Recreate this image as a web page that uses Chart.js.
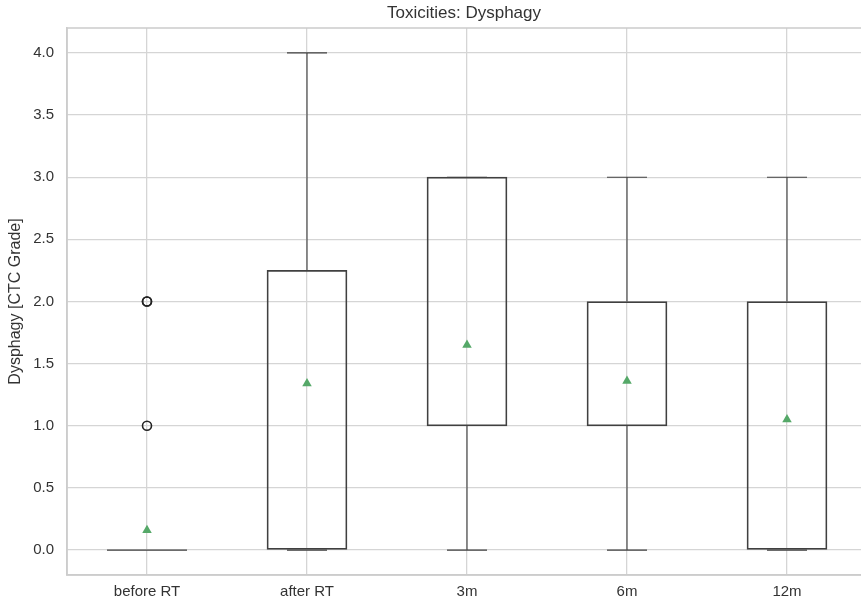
<!DOCTYPE html>
<html lang="en">

<head>
  <meta charset="UTF-8">
  <title>Toxicities: Dysphagy</title>
  <script src="https://cdn.jsdelivr.net/npm/chart.js"></script>
  <style>
    body { margin: 0; background: #fff; }
    #wrap { width: 861px; height: 604px; }
  </style>
</head>

<body>
  <div id="wrap"><canvas id="boxChart"></canvas></div>

  <script>
    // data
    const categories = ['before RT', 'after RT', '3m', '6m', '12m'];
    const q1 = [0, 0, 1, 1, 0];
    const q3 = [0, 2.25, 3, 2, 2];
    const whiskerLow = [0, 0, 0, 0, 0];
    const whiskerHigh = [0, 4, 3, 3, 3];
    const means = [0.16, 1.34, 1.65, 1.36, 1.05];
    const fliers = [[1, 2, 2], [], [], [], []];
    const yTicks = [0, 0.5, 1, 1.5, 2, 2.5, 3, 3.5, 4];

    const lineColor = '#404040';
    const gridColor = '#d5d5d5';
    const textColor = '#333333';
    const fontFamily = "'Liberation Sans', Arial, sans-serif";
    const capHalf = 0.125;
    const boxHalf = 0.25;

    // whiskers + caps as one line dataset with gaps
    const whiskerPts = [];
    categories.forEach((c, i) => {
      const x = i + 1;
      whiskerPts.push({ x: x, y: q1[i] }, { x: x, y: whiskerLow[i] }, { x: x, y: null });
      whiskerPts.push({ x: x, y: q3[i] }, { x: x, y: whiskerHigh[i] }, { x: x, y: null });
      whiskerPts.push({ x: x - capHalf, y: whiskerLow[i] }, { x: x + capHalf, y: whiskerLow[i] }, { x: x, y: null });
      whiskerPts.push({ x: x - capHalf, y: whiskerHigh[i] }, { x: x + capHalf, y: whiskerHigh[i] }, { x: x, y: null });
      if (q1[i] === q3[i]) {
        // flat box collapses to a line
        whiskerPts.push({ x: x - boxHalf, y: q1[i] }, { x: x + boxHalf, y: q1[i] }, { x: x, y: null });
      }
    });

    const flierPts = [];
    fliers.forEach((arr, i) => arr.forEach(v => flierPts.push({ x: i + 1, y: v })));

    // frame around the plot area (top + left spines, right one is cut off)
    const framePlugin = {
      id: 'frame',
      beforeDatasetsDraw(chart) {
        const a = chart.chartArea, ctx = chart.ctx;
        ctx.save();
        ctx.strokeStyle = '#cccccc';
        ctx.lineWidth = 1.5;
        ctx.strokeRect(a.left, a.top, a.right - a.left + 40, a.bottom - a.top);
        ctx.restore();
      }
    };

    const ctx = document.getElementById('boxChart').getContext('2d');
    const boxChart = new Chart(ctx, {
      data: {
        datasets: [{
          type: 'bar',
          label: 'box',
          data: categories.map((c, i) => ({ x: i + 1, y: [q1[i], q3[i]] })),
          backgroundColor: 'rgba(0,0,0,0)',
          borderColor: lineColor,
          borderWidth: 1.1,
          borderSkipped: false,
          barThickness: 80
        }, {
          type: 'line',
          label: 'whiskers',
          data: whiskerPts,
          borderColor: lineColor,
          borderWidth: 1.1,
          pointRadius: 0,
          spanGaps: false,
          fill: false
        }, {
          type: 'scatter',
          label: 'fliers',
          data: flierPts,
          pointStyle: 'circle',
          pointRadius: 4.5,
          borderColor: '#222222',
          borderWidth: 1.6,
          backgroundColor: 'rgba(255,255,255,0)'
        }, {
          type: 'scatter',
          label: 'mean',
          data: means.map((m, i) => ({ x: i + 1, y: m })),
          pointStyle: 'triangle',
          pointRadius: 5.5,
          borderWidth: 0,
          backgroundColor: '#55a868'
        }]
      },
      options: {
        responsive: true,
        maintainAspectRatio: false,
        animation: false,
        layout: { padding: 0, autoPadding: false },
        plugins: {
          legend: { display: false },
          tooltip: { enabled: false },
          title: { display: false }
        },
        scales: {
          x: {
            type: 'linear',
            min: 0.5,
            max: 5.4625,
            offset: false,
            afterBuildTicks: s => { s.ticks = categories.map((c, i) => ({ value: i + 1 })); },
            afterFit: s => { s.height = 29; },
            ticks: {
              color: textColor,
              font: { family: fontFamily, size: 15 },
              padding: 8,
              autoSkip: false,
              maxRotation: 0,
              callback: v => categories[v - 1]
            },
            grid: { color: gridColor, lineWidth: 1.3, drawTicks: false, offset: false },
            border: { display: true, color: '#cccccc', width: 1.5 }
          },
          // empty top axis, only used to centre the chart title over the plot area
          xTop: {
            type: 'linear',
            position: 'top',
            min: 0.5,
            max: 5.4625,
            offset: false,
            afterFit: s => { s.height = 28; },
            ticks: { display: false },
            grid: { display: false, drawTicks: false },
            border: { display: false },
            title: {
              display: true,
              text: 'Toxicities: Dysphagy',
              color: textColor,
              font: { family: fontFamily, size: 17 },
              padding: { top: 3, bottom: 0 }
            }
          },
          y: {
            min: -0.2,
            max: 4.2,
            afterBuildTicks: s => { s.ticks = yTicks.map(v => ({ value: v })); },
            afterFit: s => { s.width = 67; },
            ticks: {
              color: textColor,
              font: { family: fontFamily, size: 15 },
              padding: 13,
              callback: v => v.toFixed(1)
            },
            title: {
              display: true,
              text: 'Dysphagy [CTC Grade]',
              color: textColor,
              font: { family: fontFamily, size: 16 },
              padding: { top: 6, bottom: 0 }
            },
            grid: { color: gridColor, lineWidth: 1.3, drawTicks: false },
            border: { display: true, color: '#cccccc', width: 1.5 }
          }
        }
      },
      plugins: [framePlugin]
    });
  </script>
</body>

</html>
